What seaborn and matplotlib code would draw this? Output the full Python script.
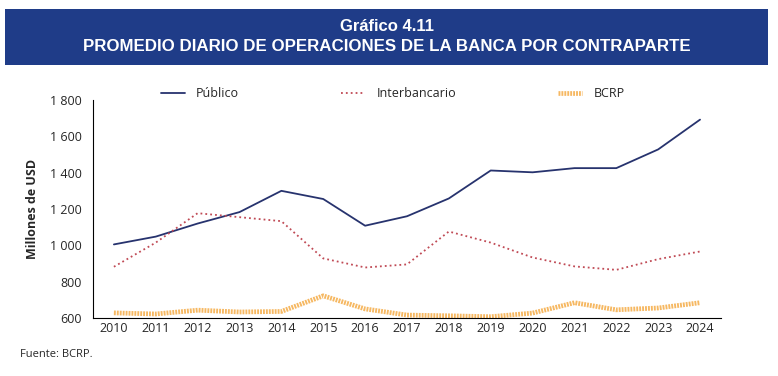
# Promedio diario de operaciones de la banca por contraparte (Gráfico 4.11)

import numpy as np
import pandas as pd
import matplotlib
matplotlib.use('Agg')
import matplotlib.pyplot as plt
from matplotlib.patches import Rectangle
from matplotlib.ticker import FuncFormatter, FixedLocator
import seaborn as sb

# Data (millones de USD)
years = [2010, 2011, 2012, 2013, 2014, 2015, 2016, 2017,
         2018, 2019, 2020, 2021, 2022, 2023, 2024]
publico = [1005, 1048, 1120, 1183, 1300, 1255, 1108, 1160,
           1258, 1412, 1402, 1425, 1425, 1528, 1692]
interbancario = [882, 1015, 1177, 1155, 1133, 928, 878, 895,
                 1076, 1015, 933, 884, 865, 924, 966]
bcrp = [628, 622, 643, 633, 636, 722, 650, 616,
        612, 607, 627, 684, 645, 655, 684]

series_names = ["Público", "Interbancario", "BCRP"]
y_ticks = [600, 800, 1000, 1200, 1400, 1600, 1800]

df = pd.DataFrame({"year": years * 3,
                   "value": publico + interbancario + bcrp,
                   "serie": np.repeat(series_names, len(years))})

sb.set_style("white")
plt.rcParams['font.family'] = ['Open Sans', 'DejaVu Sans']

fig = plt.figure(figsize=(7.78, 3.76), dpi=100)

# Header band
fig.patches.append(Rectangle((0.0064, 0.827), 0.9806, 0.149, transform=fig.transFigure,
                             facecolor="#1f3c88", edgecolor="none", zorder=0))
title_font = ["Liberation Sans", "DejaVu Sans"]
fig.text(0.497, 0.929, "Gráfico 4.11", color="white", fontsize=12, fontweight="bold",
         ha="center", va="center", family=title_font)
fig.text(0.497, 0.876, "PROMEDIO DIARIO DE OPERACIONES DE LA BANCA POR CONTRAPARTE",
         color="white", fontsize=12.2, fontweight="bold", ha="center", va="center",
         family=title_font)

ax = fig.add_axes([0.1195, 0.1543, 0.8072, 0.5797])

styles = {"Público": dict(color="#27336e", lw=1.3, ls="-"),
          "Interbancario": dict(color="#c04a55", lw=1.3, ls=(0, (1, 1.7))),
          "BCRP": dict(color="#f6b862", lw=3.4, ls=(0, (0.4, 0.22)))}
for name in series_names:
    st = styles[name]
    sb.lineplot(data=df[df["serie"] == name], x="year", y="value", ax=ax,
                color=st["color"], linewidth=st["lw"], linestyle=st["ls"], label=name)

ax.set_xlim(2009.5, 2024.5)
ax.set_ylim(600, 1800)
ax.set_yticks(y_ticks)
ax.yaxis.set_major_formatter(FuncFormatter(lambda v, p: f"{int(v):,}".replace(",", " ")))

# Tick marks between the years, labels centred on each year
ax.xaxis.set_major_locator(FixedLocator(np.arange(2009.5, 2025, 1)))
ax.xaxis.set_major_formatter(FuncFormatter(lambda v, p: ""))
ax.xaxis.set_minor_locator(FixedLocator(years))
ax.xaxis.set_minor_formatter(FuncFormatter(lambda v, p: f"{int(round(v))}"))
ax.tick_params(axis="x", which="major", length=5, width=0.8, color="black", direction="out")
ax.tick_params(axis="x", which="minor", length=0, labelsize=9, pad=3)
ax.tick_params(axis="y", length=5, width=0.8, color="black", direction="out", labelsize=9, pad=3)

for side in ["top", "right"]:
    ax.spines[side].set_visible(False)
for side in ["left", "bottom"]:
    ax.spines[side].set_color("black")
    ax.spines[side].set_linewidth(0.8)

ax.set_xlabel("")
ax.set_ylabel("Millones de USD", fontsize=9, fontweight="bold", labelpad=8)

leg = ax.legend(loc="lower left", bbox_to_anchor=(0.1, 0.975), ncol=3, frameon=False,
                fontsize=9, handlelength=1.9, handletextpad=0.9, columnspacing=8.2,
                borderaxespad=0)

fig.text(0.026, 0.056, "Fuente: BCRP.", fontsize=8, ha="left", va="center")

plt.savefig("out.png", dpi=100)
